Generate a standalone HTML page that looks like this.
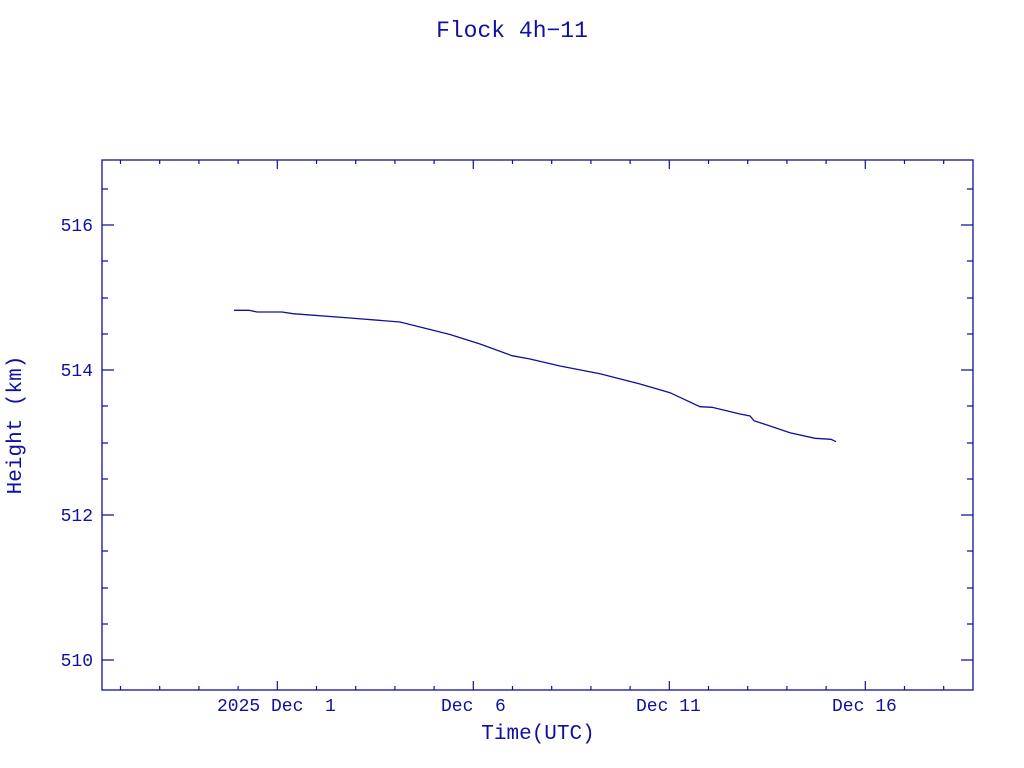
<!DOCTYPE html>
<html><head><style>body{margin:0;background:#fff}svg{display:block}text{white-space:pre}</style></head>
<body>
<svg width="1024" height="768" xmlns="http://www.w3.org/2000/svg" font-family="Liberation Mono, monospace" fill="#1010a0">
<text x="512" y="37" font-size="23" text-anchor="middle" xml:space="preserve">Flock 4h−11</text>
<rect x="102" y="160" width="871" height="530" fill="none" stroke="#10109a" stroke-width="1.3"/>
<g stroke="#10109a" stroke-width="1.2">
<path d="M102 225h12M102 370h12M102 515h12M102 660h12M973 225h-12M973 370h-12M973 515h-12M973 660h-12"/>
<path d="M102 189h6M102 261h6M102 298h6M102 334h6M102 406h6M102 443h6M102 479h6M102 551h6M102 588h6M102 624h6M973 189h-6M973 261h-6M973 298h-6M973 334h-6M973 406h-6M973 443h-6M973 479h-6M973 551h-6M973 588h-6M973 624h-6"/>
<path d="M277.3 690v-9M473.3 690v-9M669.3 690v-9M865.3 690v-9M277.3 160v9M473.3 160v9M669.3 160v9M865.3 160v9"/>
<path d="M120.5 690v-4M159.7 690v-4M198.9 690v-4M238.1 690v-4M316.5 690v-4M355.7 690v-4M394.9 690v-4M434.1 690v-4M512.5 690v-4M551.7 690v-4M590.9 690v-4M630.1 690v-4M708.5 690v-4M747.7 690v-4M786.9 690v-4M826.1 690v-4M904.5 690v-4M943.7 690v-4M120.5 160v4M159.7 160v4M198.9 160v4M238.1 160v4M316.5 160v4M355.7 160v4M394.9 160v4M434.1 160v4M512.5 160v4M551.7 160v4M590.9 160v4M630.1 160v4M708.5 160v4M747.7 160v4M786.9 160v4M826.1 160v4M904.5 160v4M943.7 160v4"/>
</g>
<g font-size="18" text-anchor="end">
<text x="93" y="231">516</text><text x="93" y="376">514</text><text x="93" y="521">512</text><text x="93" y="666">510</text>
</g>
<g font-size="18" xml:space="preserve">
<text x="217" y="711">2025 Dec  1</text>
<text x="441" y="711">Dec  6</text>
<text x="636" y="711">Dec 11</text>
<text x="832" y="711">Dec 16</text>
</g>
<text x="538" y="739" font-size="21" text-anchor="middle">Time(UTC)</text>
<text transform="translate(21 425) rotate(-90)" font-size="21" text-anchor="middle" xml:space="preserve">Height (km)</text>
<polyline fill="none" stroke="#10109a" stroke-width="1.3" points="234,310.3 249,310.3 257,312 282,312 293,313.7 350,318 400,322 432,330 450,334.5 480,344 512,355.7 530,359 560,366 600,373.7 640,384 670,392.7 700,406.7 712,407.3 740,414 750,416 754,420.7 790,432.7 815,438.3 831,439.3 836,441.7"/>
</svg>
</body></html>
